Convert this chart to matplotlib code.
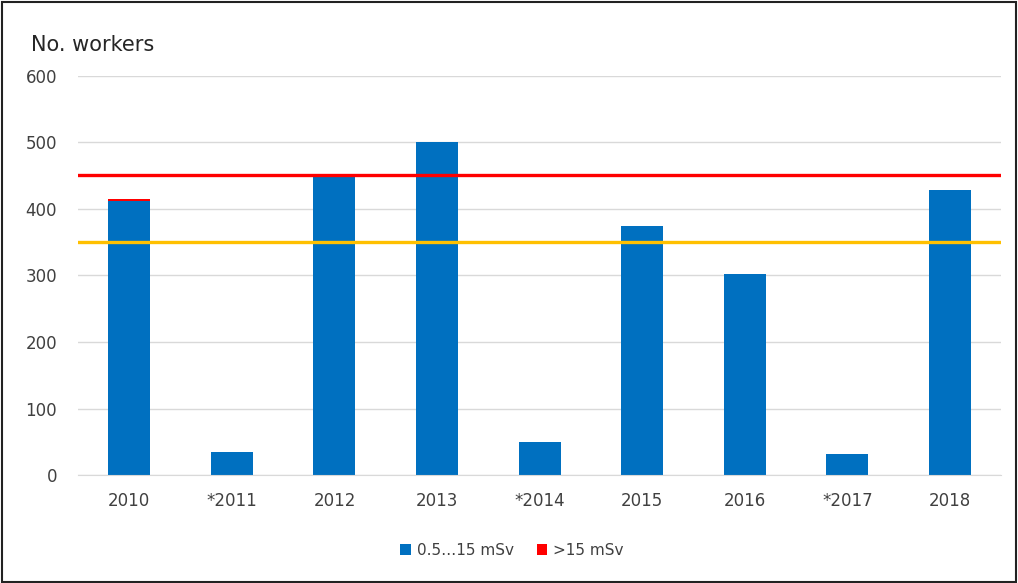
import matplotlib.pyplot as plt
import numpy as np
from matplotlib.patches import Rectangle

years = ['2010', '*2011', '2012', '2013', '*2014', '2015', '2016', '*2017', '2018']
low_dose = [412, 35, 448, 500, 50, 374, 302, 32, 428]
high_dose = [3, 0, 0, 0, 0, 0, 0, 0, 0]
red_level = 451
yellow_level = 350

fig = plt.figure(figsize=(10.18, 5.83), dpi=100)
ax = fig.add_axes([0.0766, 0.185, 0.907, 0.685])

x = np.arange(len(years))
ax.bar(x, low_dose, width=0.41, color='#0070c0', label='0.5…15 mSv', zorder=2)
ax.bar(x, high_dose, width=0.41, bottom=low_dose, color='#ff0000', label='>15 mSv', zorder=2)

ax.axhline(red_level, color='#ff0000', lw=2.4, zorder=3)
ax.axhline(yellow_level, color='#ffc000', lw=2.4, zorder=3)

ax.set_xlim(-0.5, len(years) - 0.5)
ax.set_ylim(0, 600)
ax.set_yticks(range(0, 601, 100))
ax.set_xticks(x)
ax.set_xticklabels(years)
ax.grid(axis='y', color='#d9d9d9', lw=1, zorder=0)
for s in ['top', 'right', 'left']:
    ax.spines[s].set_visible(False)
ax.spines['bottom'].set_color('#d9d9d9')
ax.tick_params(length=0, labelsize=12, colors='#404040')
ax.tick_params(axis='x', pad=12)
ax.tick_params(axis='y', pad=15)

fig.text(0.03, 0.912, 'No. workers', fontsize=15, color='#262626')

ax.legend(loc='upper center', bbox_to_anchor=(0.47, -0.135), ncol=2, frameon=False,
          fontsize=11, handlelength=0.7, handleheight=0.7, handletextpad=0.4,
          columnspacing=1.5, labelcolor='#404040')

fig.patches.append(Rectangle((0.002, 0.002), 0.996, 0.994, transform=fig.transFigure,
                             fill=False, edgecolor='#222222', lw=1.5))

fig.savefig('out.png', dpi=100)
